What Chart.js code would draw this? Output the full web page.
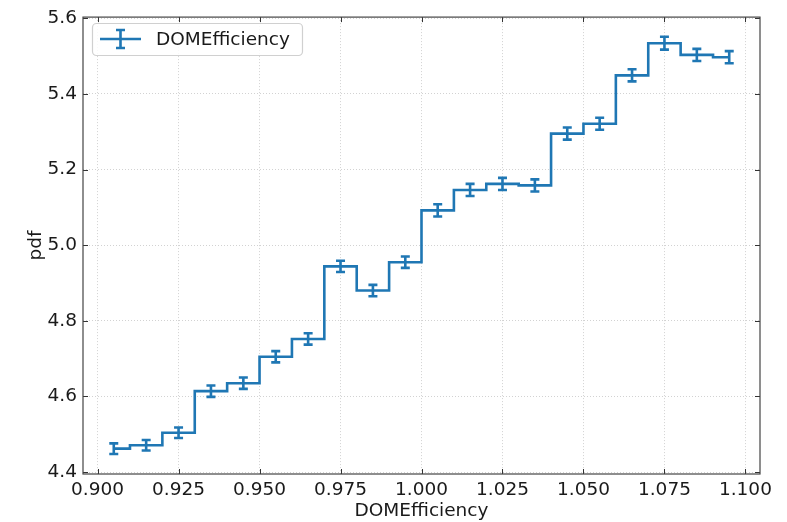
<!DOCTYPE html>
<html>
<head>
<meta charset="utf-8">
<script src="https://cdn.jsdelivr.net/npm/chart.js@4.4.0/dist/chart.umd.min.js"></script>
<style>
  html, body { margin: 0; padding: 0; background: #fff; }
  #wrap { width: 787px; height: 522px; }
</style>
</head>
<body>
<div id="wrap"><canvas id="histChart" width="787" height="522"></canvas></div>
<script>
// Données
const binCenters = [0.905, 0.915, 0.925, 0.935, 0.945, 0.955, 0.965, 0.975, 0.985, 0.995,
                    1.005, 1.015, 1.025, 1.035, 1.045, 1.055, 1.065, 1.075, 1.085, 1.095];
const pdfValues = [4.462, 4.471, 4.504, 4.614, 4.635, 4.705, 4.752, 4.944, 4.880, 4.955,
                   5.092, 5.146, 5.162, 5.158, 5.295, 5.321, 5.449, 5.534, 5.503, 5.497];
const pdfErrors = [0.014, 0.014, 0.014, 0.015, 0.015, 0.015, 0.015, 0.015, 0.015, 0.015,
                   0.016, 0.016, 0.016, 0.016, 0.016, 0.016, 0.016, 0.017, 0.016, 0.016];
const xTickValues = [0.900, 0.925, 0.950, 0.975, 1.000, 1.025, 1.050, 1.075, 1.100];
const yTickValues = [4.4, 4.6, 4.8, 5.0, 5.2, 5.4, 5.6];

const BLUE = '#1f77b4';
const FONT = "'DejaVu Sans', sans-serif";
const FSIZE = 18.5;

// Barres d'erreur, cadre, ticks internes et légende
const histDecor = {
  id: 'histDecor',
  afterDatasetsDraw(chart) {
    const ctx = chart.ctx;
    const xs = chart.scales.x, ys = chart.scales.y;
    ctx.save();
    ctx.strokeStyle = BLUE;
    ctx.lineWidth = 2.6;
    binCenters.forEach((c, i) => {
      const px = xs.getPixelForValue(c);
      const top = ys.getPixelForValue(pdfValues[i] + pdfErrors[i]);
      const bot = ys.getPixelForValue(pdfValues[i] - pdfErrors[i]);
      ctx.beginPath();
      ctx.moveTo(px, top); ctx.lineTo(px, bot);
      ctx.moveTo(px - 4.5, top); ctx.lineTo(px + 4.5, top);
      ctx.moveTo(px - 4.5, bot); ctx.lineTo(px + 4.5, bot);
      ctx.stroke();
    });
    ctx.restore();
  },
  afterDraw(chart) {
    const ctx = chart.ctx;
    const a = chart.chartArea;
    const xs = chart.scales.x, ys = chart.scales.y;
    ctx.save();
    // ticks vers l'intérieur sur les 4 côtés
    ctx.strokeStyle = '#333';
    ctx.lineWidth = 1;
    ctx.beginPath();
    xTickValues.forEach(v => {
      const px = Math.round(xs.getPixelForValue(v)) + 0.5;
      ctx.moveTo(px, a.bottom); ctx.lineTo(px, a.bottom - 5);
      ctx.moveTo(px, a.top); ctx.lineTo(px, a.top + 5);
    });
    yTickValues.forEach(v => {
      const py = Math.round(ys.getPixelForValue(v)) + 0.5;
      ctx.moveTo(a.left, py); ctx.lineTo(a.left + 5, py);
      ctx.moveTo(a.right, py); ctx.lineTo(a.right - 5, py);
    });
    ctx.stroke();
    // cadre
    ctx.strokeStyle = '#444';
    ctx.lineWidth = 1.2;
    ctx.strokeRect(a.left, a.top, a.right - a.left, a.bottom - a.top);

    // légende
    const lx = 92.5, ly = 23.5, lw = 210, lh = 32, r = 4;
    ctx.fillStyle = 'rgba(255,255,255,0.85)';
    ctx.strokeStyle = '#d0d0d0';
    ctx.lineWidth = 1.2;
    ctx.beginPath();
    ctx.roundRect(lx, ly, lw, lh, r);
    ctx.fill();
    ctx.stroke();
    ctx.strokeStyle = BLUE;
    ctx.lineWidth = 2.6;
    ctx.beginPath();
    ctx.moveTo(100, 39); ctx.lineTo(141, 39);
    ctx.moveTo(120.5, 30); ctx.lineTo(120.5, 48);
    ctx.moveTo(116, 30); ctx.lineTo(125, 30);
    ctx.moveTo(116, 48); ctx.lineTo(125, 48);
    ctx.stroke();
    ctx.fillStyle = '#1a1a1a';
    ctx.font = FSIZE + 'px ' + FONT;
    ctx.textBaseline = 'middle';
    ctx.fillText('DOMEfficiency', 156, 40);
    ctx.restore();
  }
};

new Chart(document.getElementById('histChart'), {
  type: 'line',
  data: {
    datasets: [{
      label: 'DOMEfficiency',
      data: binCenters.map((c, i) => ({ x: c, y: pdfValues[i] })),
      borderColor: BLUE,
      borderWidth: 2.6,
      stepped: 'middle',
      pointRadius: 0,
      fill: false
    }]
  },
  options: {
    responsive: false,
    animation: false,
    layout: { padding: { top: 14, right: 27, left: 0, bottom: 0 } },
    plugins: { legend: { display: false }, tooltip: { enabled: false } },
    scales: {
      x: {
        type: 'linear',
        min: 0.8955,
        max: 1.1045,
        afterBuildTicks: s => { s.ticks = xTickValues.map(v => ({ value: v })); },
        afterFit: s => { s.height = 48; },
        ticks: {
          callback: v => v.toFixed(3),
          font: { family: FONT, size: FSIZE },
          color: '#1a1a1a',
          padding: 5,
          maxRotation: 0,
          autoSkip: false
        },
        grid: { color: 'rgba(160,160,160,0.6)', lineWidth: 0.8, drawTicks: false },
        border: { display: false, dash: [1, 2] },
        title: {
          display: true,
          text: 'DOMEfficiency',
          font: { family: FONT, size: FSIZE },
          color: '#1a1a1a',
          padding: { top: 0, bottom: 0 }
        }
      },
      y: {
        min: 4.395,
        max: 5.603,
        afterBuildTicks: s => { s.ticks = yTickValues.map(v => ({ value: v })); },
        afterFit: s => { s.width = 83; },
        ticks: {
          callback: v => v.toFixed(1),
          font: { family: FONT, size: FSIZE },
          color: '#1a1a1a',
          padding: 6,
          autoSkip: false
        },
        grid: { color: 'rgba(160,160,160,0.6)', lineWidth: 0.8, drawTicks: false },
        border: { display: false, dash: [1, 2] },
        title: {
          display: true,
          text: 'pdf',
          font: { family: FONT, size: FSIZE },
          color: '#1a1a1a',
          padding: { top: 25, bottom: 0 }
        }
      }
    }
  },
  plugins: [histDecor]
});
</script>
</body>
</html>
